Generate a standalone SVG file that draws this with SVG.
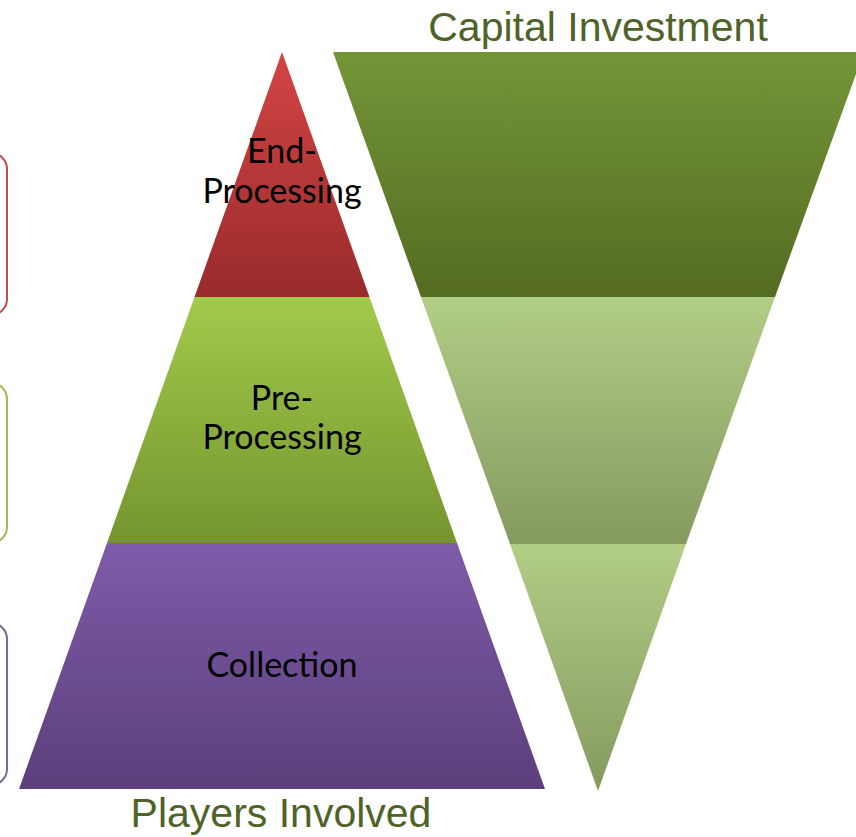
<svg xmlns="http://www.w3.org/2000/svg" width="856" height="837" viewBox="0 0 856 837">
<defs>
<linearGradient id="gRed" x1="0" y1="0" x2="0" y2="1"><stop offset="0" stop-color="#d34444"/><stop offset="1" stop-color="#992b2b"/></linearGradient>
<linearGradient id="gGreen" x1="0" y1="0" x2="0" y2="1"><stop offset="0" stop-color="#a2ca4b"/><stop offset="1" stop-color="#75942f"/></linearGradient>
<linearGradient id="gPurple" x1="0" y1="0" x2="0" y2="1"><stop offset="0" stop-color="#7e5ba9"/><stop offset="1" stop-color="#5c3f7b"/></linearGradient>
<linearGradient id="gDark" x1="0" y1="0" x2="0" y2="1"><stop offset="0" stop-color="#749537"/><stop offset="1" stop-color="#556c23"/></linearGradient>
<linearGradient id="gLight" x1="0" y1="0" x2="0" y2="1"><stop offset="0" stop-color="#b2cd86"/><stop offset="1" stop-color="#859a5e"/></linearGradient>
</defs>
<style>
.lbl{font-family:Lato,"Liberation Sans",sans-serif;font-size:34px;fill:#000;text-anchor:middle}
.ttl{font-family:"Liberation Sans",Arial,sans-serif;font-size:41px;fill:#4f6228;text-anchor:middle}
.box{fill:none;stroke-width:2}
</style>
<g id="side-boxes">
<rect id="box-end" class="box" x="-200" y="153" width="207" height="162" rx="16" stroke="#c0504d"/>
<rect id="box-pre" class="box" x="-200" y="383" width="207" height="160" rx="16" stroke="#9bbb59"/>
<rect id="box-col" class="box" x="-200" y="623" width="207" height="162" rx="16" stroke="#8064a2"/>
</g>
<g id="end-processing">
<polygon points="282,52 369.5,297 194.5,297" fill="url(#gRed)"/>
</g>
<g id="pre-processing">
<polygon points="194.5,297 369.5,297 457,543 107,543" fill="url(#gGreen)"/>
</g>
<g id="collection">
<polygon points="107,543 457,543 545,789 19,789" fill="url(#gPurple)"/>
<text class="lbl" x="282" y="677">Collection</text>
</g>
<g id="end-processing-label">
<text class="lbl" x="282" y="163">End-</text>
<text class="lbl" x="282" y="203">Processing</text>
</g>
<g id="pre-processing-label">
<text class="lbl" x="282" y="410">Pre-</text>
<text class="lbl" x="282" y="449">Processing</text>
</g>
<g id="invest-top">
<polygon points="333,52 864,52 775,297 421,297" fill="url(#gDark)"/>
</g>
<g id="invest-mid">
<polygon points="421,297 775,297 686,544 510,544" fill="url(#gLight)"/>
</g>
<g id="invest-bottom">
<polygon points="510,544 686,544 598,791" fill="url(#gLight)"/>
</g>
<g id="titles">
<text class="ttl" x="598" y="41">Capital Investment</text>
<text class="ttl" x="281" y="827">Players Involved</text>
</g>
</svg>
